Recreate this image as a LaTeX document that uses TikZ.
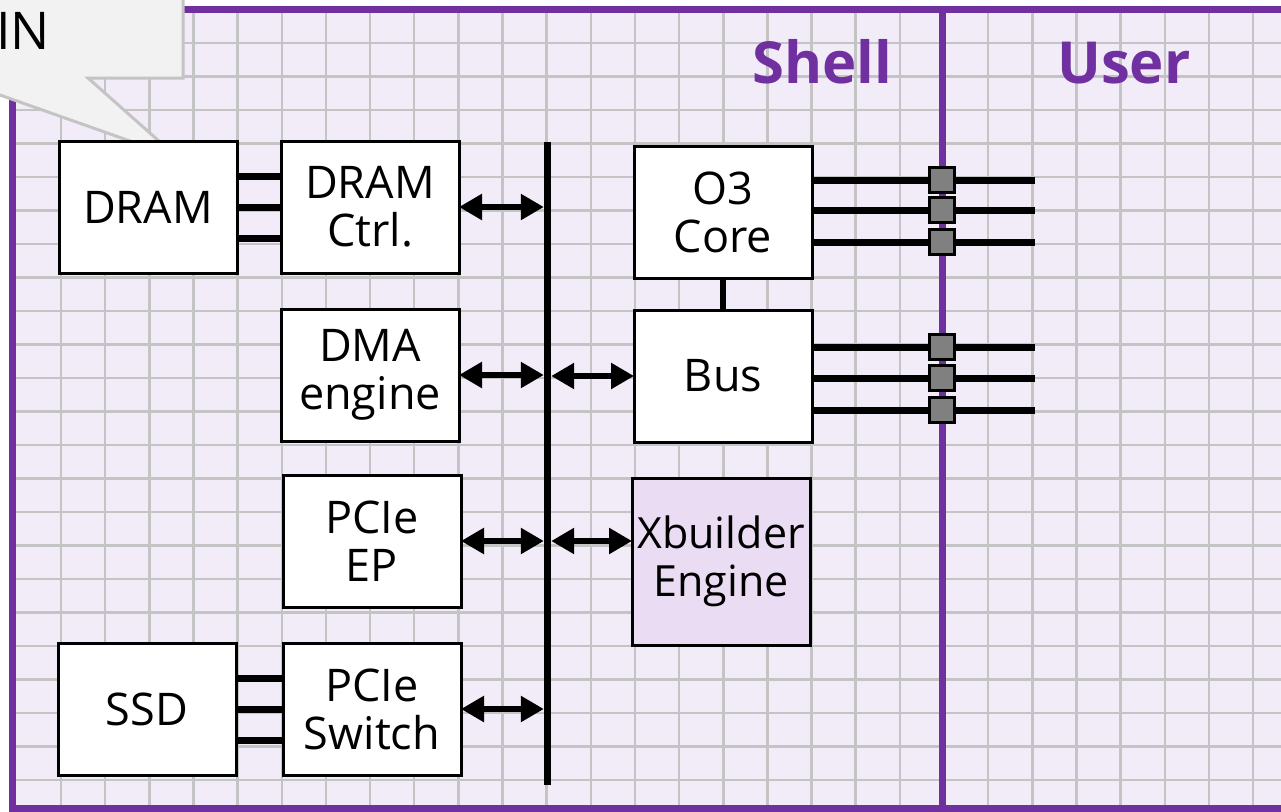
\documentclass[tikz,border=0pt]{standalone}
\usepackage{fontspec}
\setmainfont{Open Sans}
\usetikzlibrary{positioning,arrows.meta}
\definecolor{shellpurple}{HTML}{7030A0}
\definecolor{lavender}{HTML}{F2ECF8}
\definecolor{xbfill}{HTML}{EADDF3}
\definecolor{gridgray}{HTML}{C4C4C4}
\definecolor{calloutgray}{HTML}{F2F2F2}

\begin{document}
\begin{tikzpicture}[x=1pt,y=-1pt,node distance=36pt,
  blk/.style={draw=black,line width=3pt,fill=white,minimum width=178pt,minimum height=132pt,inner sep=0pt,outer sep=0pt,align=center,font=\fontsize{45}{48}\selectfont},
  wire/.style={line width=7pt},
  dbl/.style={<->,>={Triangle[length=23pt,width=25pt]},line width=5.5pt},
  port/.style={draw=black,line width=2.5pt,fill=black!50,minimum size=25pt,inner sep=0pt},
  tag/.style={text=shellpurple,inner sep=0pt,font=\fontsize{58}{58}\selectfont\bfseries},
  gridline/.style={draw=gridgray,line width=2.5pt},
  frameline/.style={draw=shellpurple,line width=7pt}]
\useasboundingbox (0,0) rectangle (1281,811);
\clip (0,0) rectangle (1281,811);
% shell / user background with grid
\begin{scope}
\clip (12.5,9) rectangle (1300,808.5);
\fill[lavender] (12.5,9) rectangle (1300,808.5);
\foreach \i in {0,...,28} \draw[gridline] ({61+44.15*\i},0) -- ({61+44.15*\i},811);
\foreach \j in {0,...,22} \draw[gridline] (0,{43+33.5*\j}) -- (1300,{43+33.5*\j});
\end{scope}
\draw[frameline] (12.5,9) rectangle (1300,808.5);
\coordinate (divtop) at (942,9);
\coordinate (divbot) at (942,808.5);
\draw[frameline] (divtop) -- (divbot);
\node[tag,anchor=base east] (shelltag) at (892,83) {Shell};
\node[tag,anchor=base west] (usertag) at (1057,83) {User};
% callout
\filldraw[fill=calloutgray,draw=gridgray,line width=3pt] (-60,-20) -- (183,-20) -- (183,78) -- (88,78) -- (178,158) -- (-48,78) -- (-60,78) -- cycle;
\node[font=\fontsize{52}{52}\selectfont,anchor=base east,inner sep=0pt] (callouttext) at (50,49) {IN};
% blocks
\node[blk] (dram) at (148,207) {DRAM};
\node[blk,right=44pt of dram] (dramctrl) {DRAM\\Ctrl.};
\node[blk,below=of dramctrl] (dma) {DMA\\engine};
\node[blk,below=34pt of dma,xshift=2pt] (pcieep) {PCIe\\EP};
\node[blk,below=of pcieep] (pcieswitch) {PCIe\\Switch};
\node[blk,left=47pt of pcieswitch] (ssd) {SSD};
\node[blk] (o3core) at (723,212) {O3\\Core};
\node[blk,below=32pt of o3core] (bus) {Bus};
\node[blk,fill=xbfill,minimum height=167pt,below=36pt of bus,xshift=-2pt,font=\fontsize{43}{48}\selectfont] (xbuilder) {Xbuilder\\Engine};
\node[fill=black,minimum width=7pt,minimum height=643pt,inner sep=0pt] (trunk) at (547.5,463.5) {};
\coordinate (userend) at (1035,212);
% links
\foreach \dy in {-31,0,31} {
  \draw[wire] ([yshift=\dy pt]dram.east) -- ([yshift=\dy pt]dramctrl.west);
  \draw[wire] ([yshift=\dy pt]ssd.east) -- ([yshift=\dy pt]pcieswitch.west);
}
\draw[line width=6pt] (o3core.south) -- (bus.north);
\foreach \dy [count=\i] in {32,2,-30} {
  \draw[wire] ([yshift=\dy pt]o3core.east) coordinate (o3w) -- (o3w -| userend);
  \node[port] (o3port\i) at (o3w -| divtop) {};
}
\foreach \dy [count=\i] in {29,-2,-34} {
  \draw[wire] ([yshift=\dy pt]bus.east) coordinate (busw) -- (busw -| userend);
  \node[port] (busport\i) at (busw -| divtop) {};
}
\draw[dbl] (dramctrl.east) -- (dramctrl.east -| trunk.west);
\draw[dbl] (dma.east) -- (dma.east -| trunk.west);
\draw[dbl] (pcieep.east) -- (pcieep.east -| trunk.west);
\draw[dbl] (pcieswitch.east) -- (pcieswitch.east -| trunk.west);
\draw[dbl] (bus.west -| trunk.east) -- (bus.west);
\draw[dbl] (pcieep.east -| trunk.east) -- (pcieep.east -| xbuilder.west);
\end{tikzpicture}
\end{document}
